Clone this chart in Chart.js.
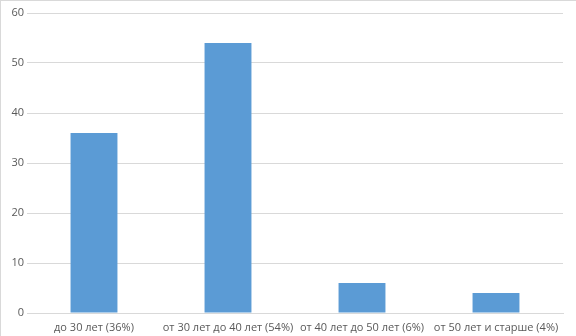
<!DOCTYPE html>
<html>
<head>
<meta charset="utf-8">
<script src="https://cdn.jsdelivr.net/npm/chart.js@4/dist/chart.umd.min.js"></script>
<style>
  html, body { margin: 0; padding: 0; background: #fff; }
  #wrap { width: 576px; height: 336px; position: relative; }
</style>
</head>
<body>
<div id="wrap"><canvas id="chart" width="576" height="336"></canvas></div>
<script>
// Data
const categories = ['до 30 лет (36%)', 'от 30 лет до 40 лет (54%)', 'от 40 лет до 50 лет (6%)', 'от 50 лет и старше (4%)'];
const values = [36, 54, 6, 4];
const yTicks = [0, 10, 20, 30, 40, 50, 60];

// Outer frame like the office chart border
const framePlugin = {
  id: 'frame',
  afterDraw(chart) {
    const ctx = chart.ctx;
    ctx.save();
    ctx.strokeStyle = '#d9d9d9';
    ctx.lineWidth = 1;
    ctx.strokeRect(0.5, 0.5, chart.width, chart.height);
    ctx.restore();
  }
};

const textColor = '#595959';
const font = { family: "'Open Sans', 'Liberation Sans', sans-serif", size: 11 };

new Chart(document.getElementById('chart'), {
  type: 'bar',
  data: {
    labels: categories,
    datasets: [{
      data: values,
      backgroundColor: '#5b9bd5',
      categoryPercentage: 1,
      barPercentage: 0.35
    }]
  },
  options: {
    responsive: false,
    animation: false,
    layout: { padding: { top: 13, right: 13, left: 0, bottom: 0 } },
    plugins: { legend: { display: false }, tooltip: { enabled: false } },
    scales: {
      x: {
        grid: { display: false },
        border: { color: '#d9d9d9' },
        ticks: { color: textColor, font: font, maxRotation: 0, autoSkip: false, padding: 0 },
        afterFit: s => { s.height = 23; }
      },
      y: {
        min: 0,
        max: 60,
        afterBuildTicks: s => { s.ticks = yTicks.map(v => ({ value: v })); },
        grid: { color: '#d9d9d9', drawTicks: false },
        border: { display: false },
        ticks: { color: textColor, font: font, padding: 3 },
        afterFit: s => { s.width = 27; }
      }
    }
  },
  plugins: [framePlugin]
});
</script>
</body>
</html>
